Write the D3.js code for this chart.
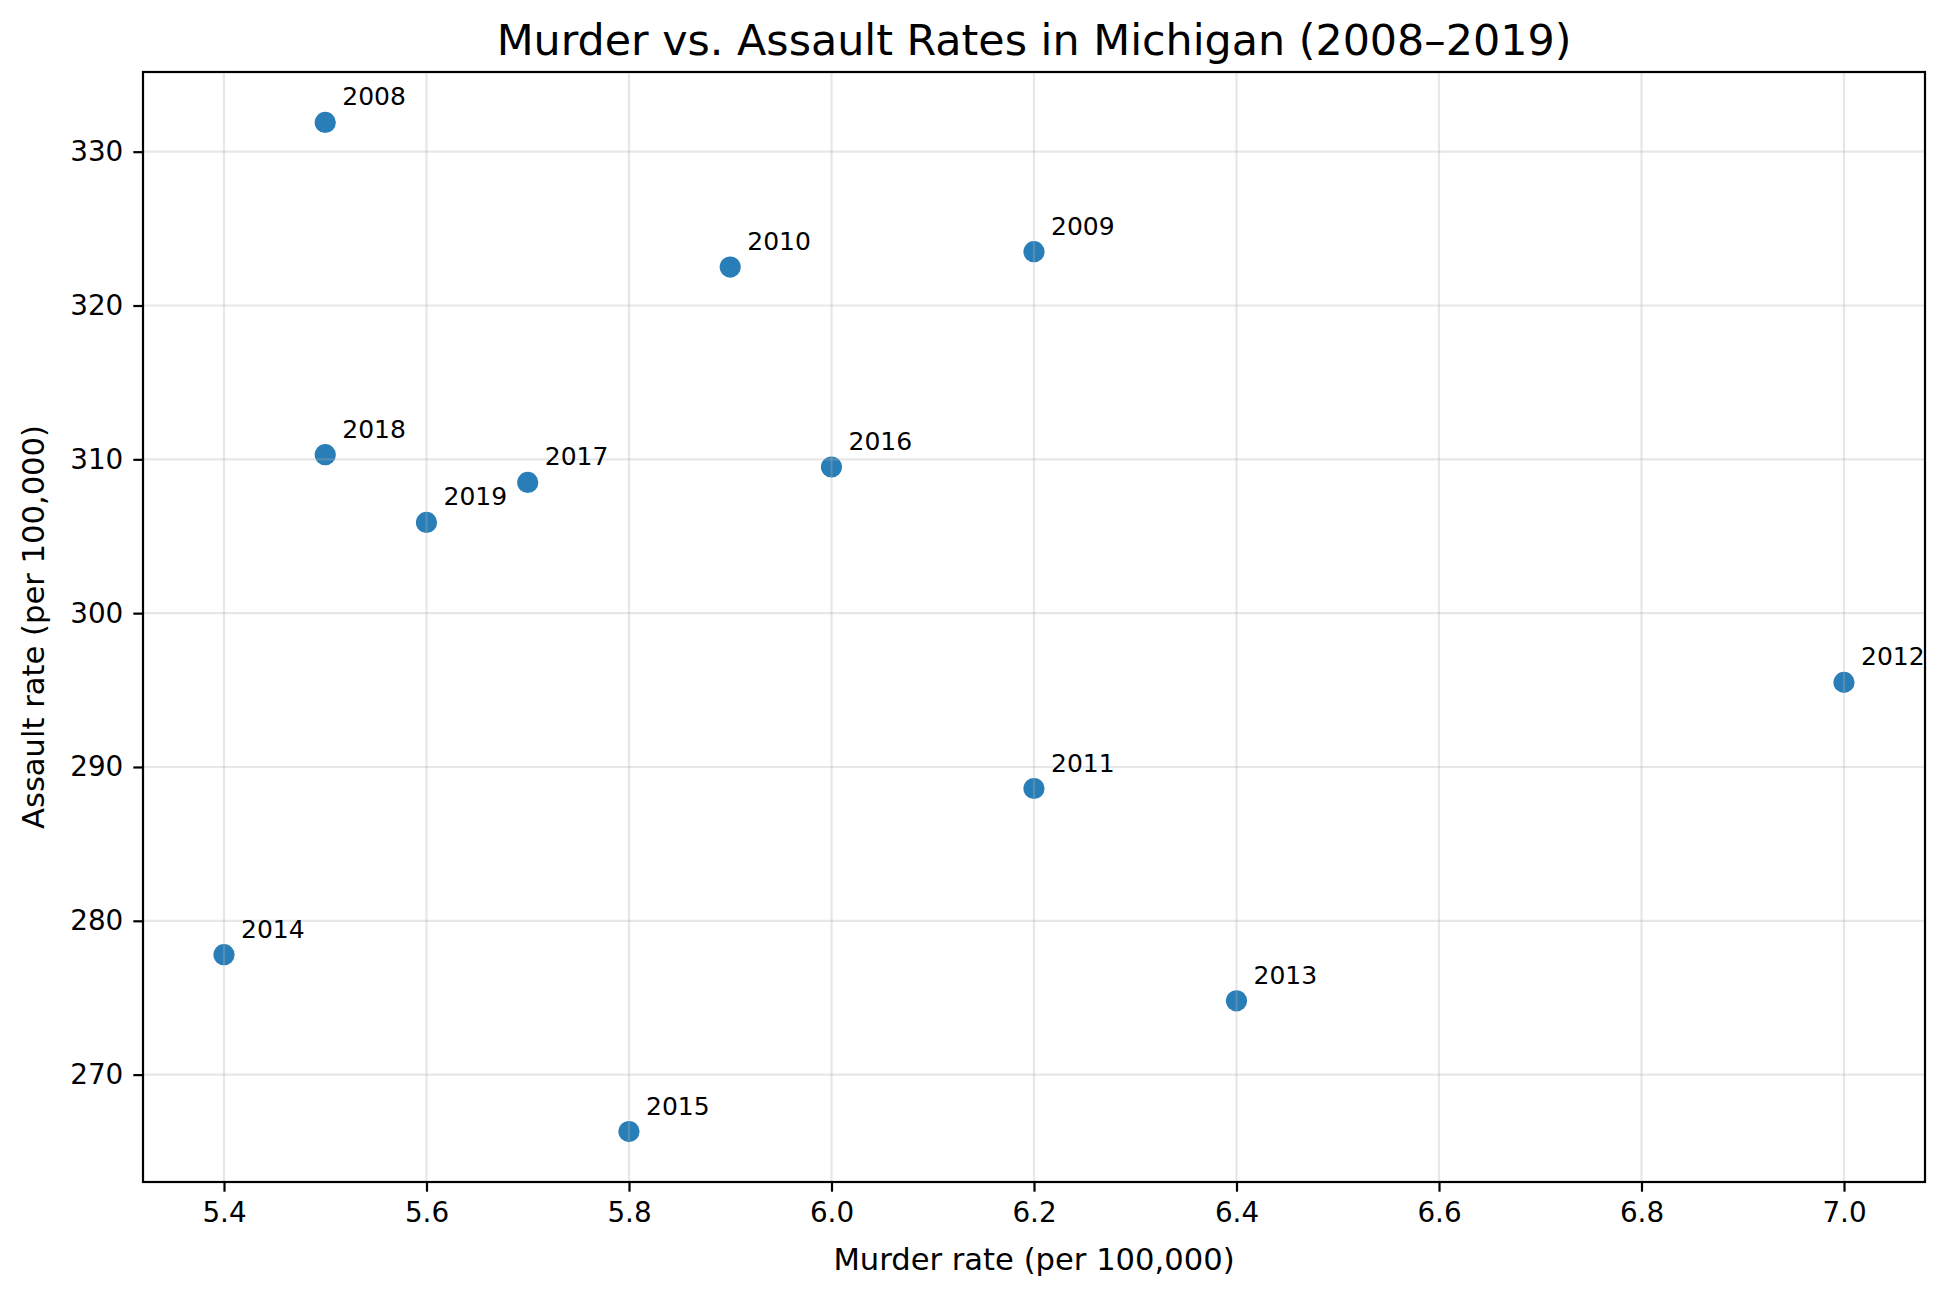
<!DOCTYPE html>
<html>
<head>
<meta charset="utf-8">
<script src="https://cdn.jsdelivr.net/npm/d3@7"></script>
<style>
  html, body { margin: 0; padding: 0; background: #fff; }
  text { font-family: "DejaVu Sans", sans-serif; fill: #000; }
</style>
</head>
<body>
<svg id="chart" width="1946" height="1297"></svg>
<script>
const years   = [2008, 2009, 2010, 2011, 2012, 2013, 2014, 2015, 2016, 2017, 2018, 2019];
const murder  = [5.5, 6.2, 5.9, 6.2, 7.0, 6.4, 5.4, 5.8, 6.0, 5.7, 5.5, 5.6];
const assault = [331.9, 323.5, 322.5, 288.6, 295.5, 274.8, 277.8, 266.3, 309.5, 308.5, 310.3, 305.9];
const xTicks  = [5.4, 5.6, 5.8, 6.0, 6.2, 6.4, 6.6, 6.8, 7.0];
const yTicks  = [270, 280, 290, 300, 310, 320, 330];
const titleText = "Murder vs. Assault Rates in Michigan (2008–2019)";
const xLabel = "Murder rate (per 100,000)";
const yLabel = "Assault rate (per 100,000)";

const data = years.map((y, i) => ({ year: y, x: murder[i], y: assault[i] }));

const svg = d3.select("#chart");
const m = { left: 143, right: 1925, top: 72, bottom: 1182 };

const xMin = d3.min(murder), xMax = d3.max(murder);
const yMin = d3.min(assault), yMax = d3.max(assault);
const xPad = (xMax - xMin) * 0.05, yPad = (yMax - yMin) * 0.05;

const x = d3.scaleLinear().domain([xMin - xPad, xMax + xPad]).range([m.left, m.right]);
const y = d3.scaleLinear().domain([yMin - yPad, yMax + yPad]).range([m.bottom, m.top]);

// points (drawn below grid, like matplotlib)
svg.append("g").selectAll("circle").data(data).join("circle")
  .attr("cx", d => x(d.x)).attr("cy", d => y(d.y)).attr("r", 10.6)
  .attr("fill", "#1f77b4").attr("fill-opacity", 0.95);

// grid
const grid = svg.append("g");
grid.selectAll("line.gx").data(xTicks).join("line")
  .attr("x1", d => x(d)).attr("x2", d => x(d)).attr("y1", m.top).attr("y2", m.bottom)
  .attr("stroke", "#b0b0b0").attr("stroke-opacity", 0.3).attr("stroke-width", 2.2);
grid.selectAll("line.gy").data(yTicks).join("line")
  .attr("y1", d => y(d)).attr("y2", d => y(d)).attr("x1", m.left).attr("x2", m.right)
  .attr("stroke", "#b0b0b0").attr("stroke-opacity", 0.3).attr("stroke-width", 2.2);

// axes
const xAxis = d3.axisBottom(x).tickValues(xTicks).tickFormat(d3.format(".1f")).tickSize(9.7).tickPadding(9.7);
const yAxis = d3.axisLeft(y).tickValues(yTicks).tickFormat(d3.format("d")).tickSize(9.7).tickPadding(10);

const gx = svg.append("g").attr("transform", `translate(0,${m.bottom})`).call(xAxis);
const gy = svg.append("g").attr("transform", `translate(${m.left},0)`).call(yAxis);
[gx, gy].forEach(g => {
  g.select(".domain").remove();
  g.selectAll(".tick line").attr("stroke", "#000").attr("stroke-width", 2.2);
  g.selectAll(".tick text").attr("font-size", 27.8).attr("font-family", "DejaVu Sans").attr("fill", "#000");
});
gx.selectAll(".tick text").attr("dy", "0.75em");

// frame
svg.append("rect").attr("x", m.left).attr("y", m.top)
  .attr("width", m.right - m.left).attr("height", m.bottom - m.top)
  .attr("fill", "none").attr("stroke", "#000").attr("stroke-width", 2.2);

// annotations
svg.append("g").selectAll("text").data(data).join("text")
  .attr("x", d => x(d.x) + 17).attr("y", d => y(d.y) - 17)
  .attr("font-size", 25).text(d => d.year);

// title and labels
const cx = (m.left + m.right) / 2;
svg.append("text").attr("x", cx).attr("y", 55).attr("text-anchor", "middle")
  .attr("font-size", 42.8).text(titleText);
svg.append("text").attr("x", cx).attr("y", 1270).attr("text-anchor", "middle")
  .attr("font-size", 30.6).text(xLabel);
svg.append("text").attr("transform", `translate(44,${(m.top + m.bottom) / 2}) rotate(-90)`)
  .attr("text-anchor", "middle").attr("font-size", 30.6).text(yLabel);
</script>
</body>
</html>
